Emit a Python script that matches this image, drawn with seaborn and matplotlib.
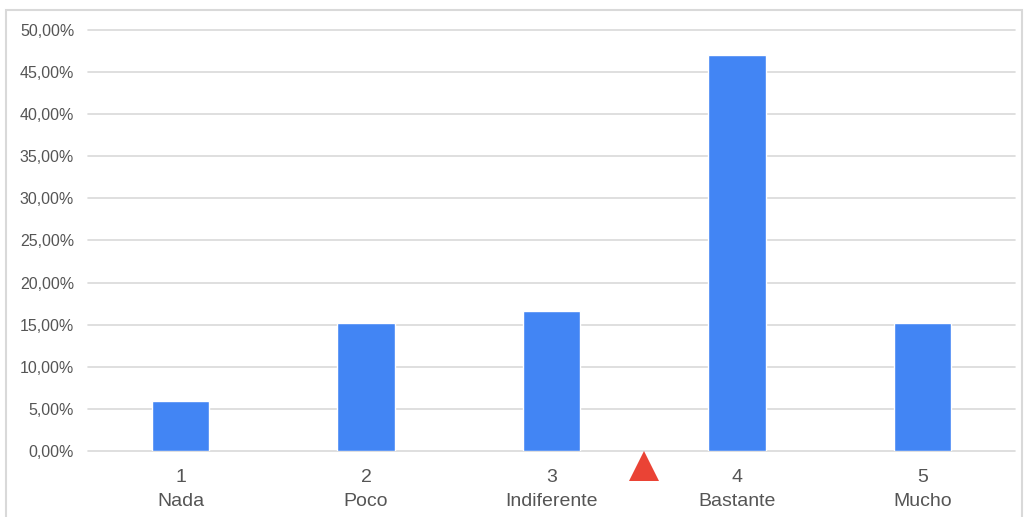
import matplotlib
matplotlib.use("Agg")
import matplotlib.pyplot as plt
import seaborn as sns
import pandas as pd
from matplotlib.patches import Rectangle
from matplotlib.ticker import FuncFormatter

# data
niveles = ["1", "2", "3", "4", "5"]
etiquetas = ["Nada", "Poco", "Indiferente", "Bastante", "Mucho"]
porcentajes = [5.94, 15.2, 16.6, 47.0, 15.2]
media = 3.5  # red marker, weighted mean on the 1-5 scale

sns.set_theme(style="white")
plt.rcParams["font.family"] = ["Liberation Sans", "DejaVu Sans"]

df = pd.DataFrame({"nivel": niveles, "pct": porcentajes})

fig = plt.figure(figsize=(10.25, 5.17), dpi=100)
ax = fig.add_axes([0.0859, 0.1277, 0.9043, 0.8143])

sns.barplot(data=df, x="nivel", y="pct", color="#4285f4", saturation=1,
            width=0.31, ax=ax, zorder=3)

ax.set_ylim(0, 50)
ax.set_xlim(-0.5, 4.5)
ax.set_yticks(range(0, 51, 5))
ax.yaxis.set_major_formatter(FuncFormatter(lambda v, p: f"{v:.2f}%".replace(".", ",")))
for v in range(0, 51, 5):
    ax.axhline(v, color="#d9d9d9", linewidth=1.2, clip_on=False, zorder=1)
for s in ax.spines.values():
    s.set_visible(False)

ax.set_xticks(range(len(niveles)))
ax.set_xticklabels([f"{n}\n{e}" for n, e in zip(niveles, etiquetas)],
                   fontsize=14, color="#555555", linespacing=1.5)
ax.tick_params(axis="y", labelsize=11.5, labelcolor="#555555", length=0, pad=10)
ax.tick_params(axis="x", length=0, pad=13)
ax.set_xlabel("")
ax.set_ylabel("")

# mean marker below the axis
ax.plot([media - 1], [-1.75], marker="^", ms=21, color="#ea4335",
        markeredgewidth=0, clip_on=False, linestyle="none", zorder=4)

# light frame around the chart
fig.patches.append(Rectangle((6 / 1025, -0.05), 1016 / 1025, 1 - 9.5 / 517 + 0.05,
                             transform=fig.transFigure, fill=False,
                             edgecolor="#d9d9d9", linewidth=1.5))

fig.savefig("out.png", dpi=100)
